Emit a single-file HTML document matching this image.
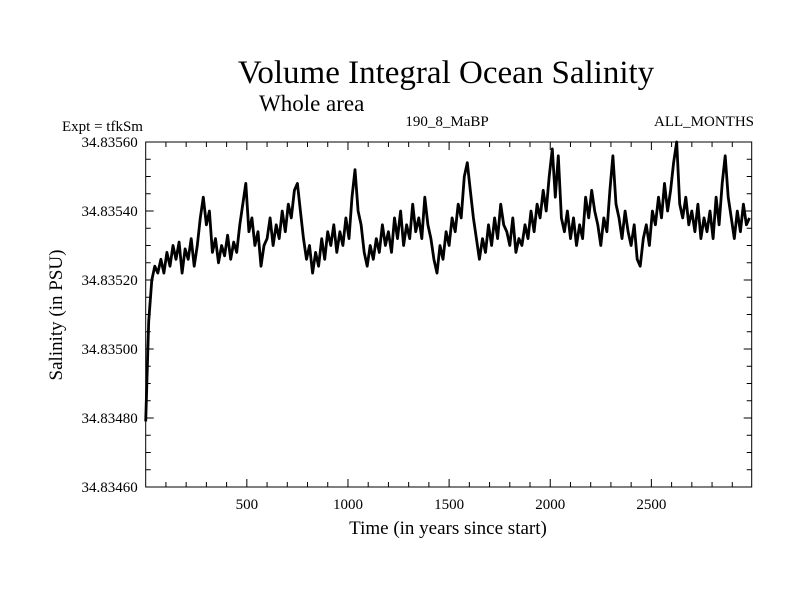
<!DOCTYPE html>
<html><head><meta charset="utf-8"><style>
body{margin:0;background:#fff;}
svg{display:block;font-family:"Liberation Serif",serif;}
</style></head><body>
<svg id="chart" width="800" height="600" viewBox="0 0 800 600">
<text x="446" y="83" font-size="33" text-anchor="middle">Volume Integral Ocean Salinity</text>
<text x="259" y="111" font-size="23">Whole area</text>
<text x="62" y="131" font-size="15">Expt = tfkSm</text>
<text x="447" y="126" font-size="15" text-anchor="middle">190_8_MaBP</text>
<text x="754" y="126" font-size="15" text-anchor="end">ALL_MONTHS</text>
<text x="448" y="534" font-size="19" text-anchor="middle">Time (in years since start)</text>
<text transform="translate(62,315) rotate(-90)" font-size="19" text-anchor="middle">Salinity (in PSU)</text>
<g id="axes"></g>
<g id="marks"></g>
</svg>
<script>
const yTickLabels=["34.83460","34.83480","34.83500","34.83520","34.83540","34.83560"];
const yTickValues=[0,20,40,60,80,100]; // 1e-5 PSU above 34.8346
const xTickValues=[500,1000,1500,2000,2500];
const timeStep=15;
const salinityE5=[19,48,60,64,62,66,62,68,64,70,66,71,62,69,66,72,64,70,78,84,76,80,68,72,65,70,67,73,66,71,68,76,82,88,74,78,70,74,64,70,72,78,70,76,72,80,74,82,78,86,88,80,72,66,70,62,68,64,72,66,74,70,76,68,74,70,78,72,84,92,80,76,68,64,70,66,72,68,76,70,74,68,78,72,80,70,76,72,82,74,78,72,84,76,72,66,62,70,66,74,70,78,74,82,78,90,94,86,78,72,66,72,68,76,70,78,72,82,76,74,70,78,68,72,70,76,72,80,74,82,78,86,80,90,98,84,96,78,74,80,72,78,70,76,72,84,78,86,80,76,70,78,74,86,96,82,78,72,80,74,70,76,66,64,72,76,70,80,76,84,78,88,80,86,94,100,82,78,84,76,80,74,82,72,78,74,80,72,84,76,88,96,84,78,72,80,74,82,76,78];
const X0=145.7,X1=751.7,Y0=487,Y1=142,XMAX=2996;
const xs=t=>X0+(X1-X0)*t/XMAX;
const ys=u=>Y0-(Y0-Y1)*u/100;
const NS="http://www.w3.org/2000/svg";
const axes=document.getElementById('axes'),marks=document.getElementById('marks');
function mk(tag,attrs,parent){const e=document.createElementNS(NS,tag);for(const k in attrs)e.setAttribute(k,attrs[k]);parent.appendChild(e);return e;}
const frame=mk('rect',{x:X0,y:Y1,width:X1-X0,height:Y0-Y1,fill:'none',stroke:'#000','stroke-width':1},axes);


for(let t=100;t<XMAX;t+=100){
  const len=(t%500===0)?8:5;
  const a=mk('line',{x1:xs(t),x2:xs(t),y1:Y0,y2:Y0-len,stroke:'#000'},axes);
  
  
  const b=mk('line',{x1:xs(t),x2:xs(t),y1:Y1,y2:Y1+len,stroke:'#000'},axes);
  
  
}
xTickValues.forEach(t=>{
  const tx=mk('text',{x:xs(t),y:Y0+22,'font-size':15,'text-anchor':'middle'},axes);
  tx.textContent=String(t);
  
  
});
for(let u=5;u<100;u+=5){
  const len=(u%20===0)?8:5;
  const a=mk('line',{x1:X0,x2:X0+len,y1:ys(u),y2:ys(u),stroke:'#000'},axes);
  
  
  const b=mk('line',{x1:X1,x2:X1-len,y1:ys(u),y2:ys(u),stroke:'#000'},axes);
  
  
}
yTickValues.forEach((u,i)=>{
  const tx=mk('text',{x:X0-8,y:ys(u)+5,'font-size':15,'text-anchor':'end'},axes);
  tx.textContent=yTickLabels[i];
  
  
});
const pts=salinityE5.map((u,i)=>xs(i*timeStep).toFixed(1)+','+ys(u).toFixed(1)).join(' ');
const line=mk('polyline',{points:pts,fill:'none',stroke:'#000','stroke-width':2.8,'stroke-linejoin':'round'},marks);


</script>
</body></html>
